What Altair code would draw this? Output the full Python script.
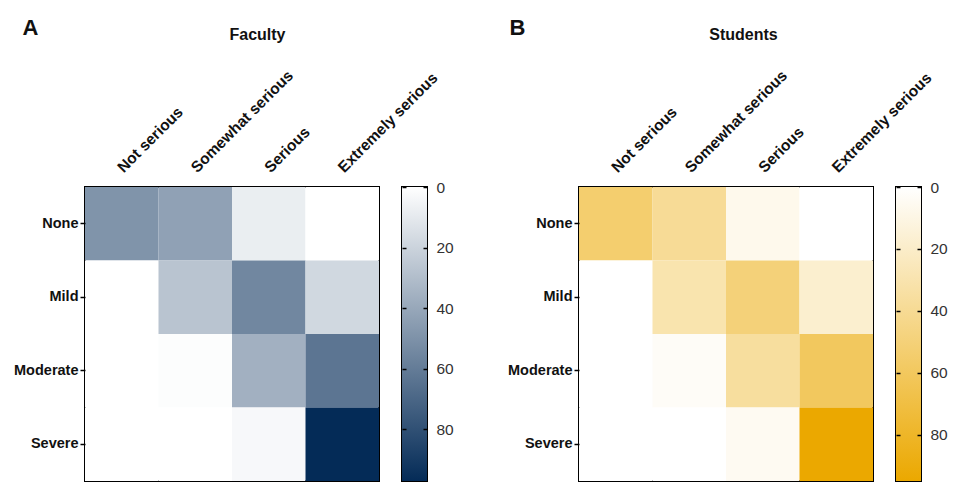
import altair as alt
import pandas as pd

severity = ["Not serious", "Somewhat serious", "Serious", "Extremely serious"]
impact = ["None", "Mild", "Moderate", "Severe"]

faculty_none = [49, 43, 8, 0]
faculty_mild = [0, 27, 55, 18]
faculty_moderate = [0, 1, 36, 63]
faculty_severe = [0, 0, 3, 97]

students_none = [54, 39, 7, 0]
students_mild = [0, 30, 50, 18]
students_moderate = [0, 3, 36, 60]
students_severe = [0, 0, 5, 95]

faculty_rows = [faculty_none, faculty_mild, faculty_moderate, faculty_severe]
students_rows = [students_none, students_mild, students_moderate, students_severe]

legend_ticks = [0, 20, 40, 60, 80]
FONT = "Liberation Sans"


def to_df(rows):
    recs = []
    for r, row in zip(impact, rows):
        for c, v in zip(severity, row):
            recs.append({"severity": c, "impact": r, "value": v})
    return pd.DataFrame(recs)


def heatmap(rows, letter, title, color_hi, dmax, letter_x, title_x):
    df = to_df(rows)
    return alt.Chart(df).mark_rect().encode(
        x=alt.X(
            "severity:N",
            sort=severity,
            scale=alt.Scale(paddingInner=0, paddingOuter=0),
            axis=alt.Axis(
                orient="top",
                title=title,
                titleFont=FONT,
                titleFontSize=16,
                titleFontWeight="bold",
                titleColor="#111",
                titleX=title_x,
                titleY=-153,
                titleBaseline="middle",
                labelAngle=-45,
                labelFont=FONT,
                labelFontSize=15.5,
                labelFontWeight="bold",
                labelColor="#111",
                labelPadding=12,
                labelOffset=4,
                ticks=False,
                domain=False,
            ),
        ),
        y=alt.Y(
            "impact:N",
            sort=impact,
            scale=alt.Scale(paddingInner=0, paddingOuter=0),
            axis=alt.Axis(
                title=letter,
                titleFont=FONT,
                titleFontSize=22,
                titleFontWeight="bold",
                titleColor="#111",
                titleAngle=0,
                titleAlign="left",
                titleBaseline="top",
                titleX=letter_x,
                titleY=-170,
                labelFont=FONT,
                labelFontSize=14.5,
                labelFontWeight="bold",
                labelColor="#111",
                labelPadding=2,
                tickColor="black",
                tickWidth=1.5,
                tickSize=5,
                domain=False,
            ),
        ),
        color=alt.Color(
            "value:Q",
            scale=alt.Scale(domain=[0, dmax], range=["#ffffff", color_hi], interpolate="rgb"),
            legend=None,
        ),
    ).properties(width=294, height=294)


def colorbar(color_hi, dmax):
    df = pd.DataFrame({"lo": [0], "hi": [dmax], "xl": [0], "xr": [1]})
    grad = alt.Gradient(
        gradient="linear",
        stops=[alt.GradientStop(color="#ffffff", offset=0), alt.GradientStop(color=color_hi, offset=1)],
        x1=0, x2=0, y1=0, y2=1,
    )
    yscale = alt.Scale(domain=[0, dmax], reverse=True, nice=False, zero=False)
    xscale = alt.Scale(domain=[0, 1], nice=False, zero=False)
    common = dict(
        values=legend_ticks,
        offset=-4,
        tickSize=4,
        tickColor="black",
        tickWidth=1.5,
        domain=False,
        grid=False,
        title=None,
        zindex=1,
    )
    right = alt.Chart(df).mark_rect(fill=grad).encode(
        y=alt.Y(
            "lo:Q",
            scale=yscale,
            axis=alt.Axis(
                orient="right",
                labelPadding=9,
                labelFont=FONT,
                labelFontSize=15.5,
                labelColor="#333",
                **common,
            ),
        ),
        y2="hi:Q",
        x=alt.X("xl:Q", scale=xscale, axis=None),
        x2="xr:Q",
    )
    left = alt.Chart(df).mark_rect(opacity=0).encode(
        y=alt.Y("lo:Q", scale=yscale, axis=alt.Axis(orient="left", labels=False, **common)),
        y2="hi:Q",
        x=alt.X("xl:Q", scale=xscale, axis=None),
        x2="xr:Q",
    )
    return alt.layer(right, left).resolve_axis(y="independent").properties(width=25, height=294)


def panel(rows, letter, title, color_hi, dmax, letter_x, title_x):
    return alt.hconcat(
        heatmap(rows, letter, title, color_hi, dmax, letter_x, title_x),
        colorbar(color_hi, dmax),
        spacing=23,
        bounds="flush",
    ).resolve_scale(x="independent", y="independent", color="independent")


a = panel(faculty_rows, "A", "Faculty", "#042b57", 97, -63, 172)
b = panel(students_rows, "B", "Students", "#eba800", 95, -70, 164)

chart = alt.hconcat(a, b, spacing=51).resolve_scale(
    x="independent", y="independent", color="independent"
).properties(
    padding={"top": 15, "left": 12, "right": 5, "bottom": 5},
    background="white",
).configure_view(stroke="black", strokeWidth=2)

chart.save("out.html", embed_options={"renderer": "svg", "actions": False})
